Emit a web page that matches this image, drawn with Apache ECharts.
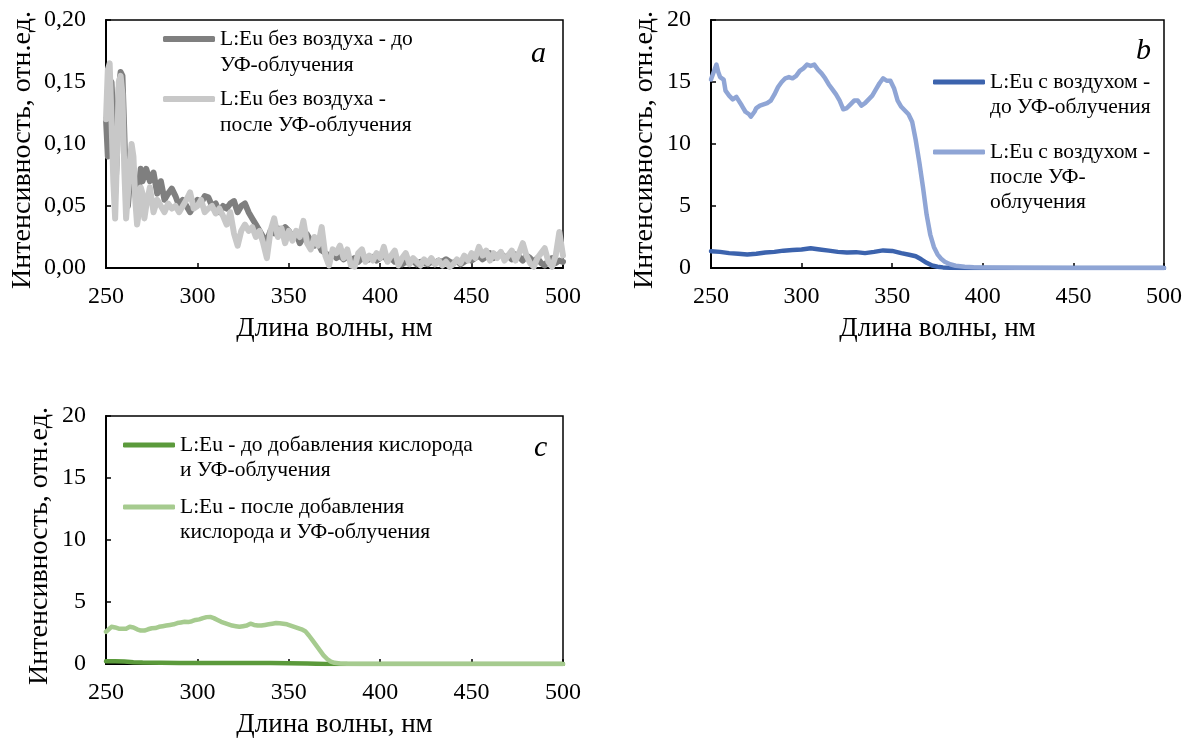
<!DOCTYPE html>
<html><head><meta charset="utf-8">
<script src="https://cdn.jsdelivr.net/npm/echarts@6/dist/echarts.min.js"></script>
<style>html,body{margin:0;padding:0;background:#fff}#c{width:1185px;height:740px}</style>
</head><body><div id="c"></div>
<script>
// ---- Panel a (без воздуха) ----
const wlA = [250,251,252,253,254,255,256,257,258,259,260,261,262,263,264,265,266,267,268,269,270,271,272,
 274,276,278,280,282,284,286,288,290,292,
 294,296,298,300,302,304,306,308,310,312,
 314,316,318,320,322,324,326,328,330,332,
 334,336,338,340,342,344,346,348,350,352,
 354,356,358,360,362,364,366,368,370,372,
 374,376,378,380,382,384,386,388,390,392,
 394,396,398,400,402,404,406,408,410,412,
 414,416,418,420,422,424,426,428,430,432,
 434,436,438,440,442,444,446,448,450,452,
 454,456,458,460,462,464,466,468,470,472,
 474,476,478,480,482,484,486,488,490,492,
 494,496,498,500];
const aBefore = [0.12,0.09,0.13,0.15,0.12,0.06,0.09,0.145,0.158,0.155,0.11,0.06,0.05,0.07,0.09,0.08,0.06,0.05,0.065,0.08,0.07,0.075,0.08,
 0.07,0.077,0.06,0.07,0.055,0.06,0.064,0.058,0.05,0.055,
 0.05,0.045,0.05,0.055,0.052,0.058,0.057,0.05,0.052,0.045,
 0.05,0.048,0.052,0.054,0.045,0.05,0.052,0.045,0.04,0.035,
 0.03,0.025,0.022,0.03,0.028,0.032,0.03,0.033,0.03,0.025,
 0.028,0.02,0.025,0.027,0.022,0.018,0.02,0.014,0.012,0.01,
 0.012,0.008,0.01,0.007,0.009,0.006,0.008,0.005,0.008,0.006,
 0.007,0.009,0.006,0.008,0.01,0.006,0.008,0.005,0.006,0.003,
 0.005,0.004,0.006,0.003,0.005,0.004,0.003,0.005,0.004,0.006,
 0.005,0.007,0.005,0.004,0.006,0.003,0.005,0.007,0.006,0.008,
 0.01,0.007,0.009,0.012,0.008,0.01,0.012,0.008,0.01,0.007,
 0.011,0.009,0.006,0.01,0.008,0.005,0.008,0.004,0.002,0.006,
 0.008,0.004,0.006,0.005];
const aAfter = [0.12,0.16,0.165,0.12,0.07,0.04,0.09,0.15,0.155,0.14,0.08,0.04,0.06,0.085,0.1,0.09,0.055,0.035,0.045,0.065,0.06,0.04,0.05,
 0.065,0.045,0.055,0.05,0.045,0.052,0.048,0.05,0.045,0.05,
 0.055,0.061,0.048,0.05,0.055,0.045,0.048,0.05,0.044,0.048,
 0.042,0.035,0.045,0.028,0.018,0.03,0.035,0.03,0.033,0.025,
 0.03,0.02,0.008,0.03,0.04,0.025,0.032,0.02,0.03,0.022,
 0.03,0.025,0.038,0.02,0.015,0.025,0.018,0.033,0.01,0.002,
 0.015,0.012,0.018,0.008,0.015,0.002,0.001,0.012,0.015,0.005,
 0.01,0.006,0.012,0.008,0.017,0.005,0.01,0.014,0.002,0.008,
 0.012,0.003,0.008,0.005,0.002,0.007,0.004,0.008,0.003,0.006,
 0.002,0.005,0.001,0.003,0.007,0.004,0.01,0.006,0.012,0.008,
 0.017,0.01,0.014,0.006,0.012,0.008,0.013,0.006,0.01,0.014,
 0.006,0.012,0.02,0.01,0.004,0.001,0.008,0.012,0.016,0.005,
 0.001,0.01,0.029,0.01];

// ---- Panel b (с воздухом) : [nm, value] ----
const bBefore = [[250,1.35],[255,1.3],[260,1.2],[265,1.15],[270,1.08],[275,1.15],[280,1.25],[285,1.3],[290,1.4],[295,1.45],[300,1.5],[305,1.6],[310,1.5],[315,1.4],[320,1.3],[325,1.25],[330,1.28],[335,1.2],[340,1.3],[345,1.42],[350,1.38],[355,1.2],[360,1.05],[363,0.95],[366,0.7],[369,0.42],[372,0.2],[375,0.1],[378,0.05],[382,0.02],[390,0.01],[500,0.0]];
const bAfter = [[250,15.2],[251,15.6],[252,16.0],[253,16.4],[254,15.8],[255,15.4],[256,15.5],[257,15.2],[258,14.3],[260,13.9],[262,13.6],[264,13.8],[265,13.7],[267,13.1],[269,12.6],[271,12.4],[272,12.2],[274,12.6],[275,12.9],[277,13.1],[279,13.2],[281,13.3],[283,13.5],[285,14.0],[287,14.6],[289,15.0],[291,15.3],[293,15.4],[295,15.3],[297,15.5],[299,15.9],[301,16.1],[303,16.4],[305,16.3],[307,16.4],[309,16.0],[311,15.7],[313,15.3],[315,14.8],[317,14.4],[319,14.0],[321,13.5],[323,12.8],[325,12.9],[327,13.2],[329,13.5],[331,13.5],[333,13.1],[335,13.3],[337,13.6],[339,13.9],[341,14.4],[343,14.9],[345,15.3],[347,15.1],[349,15.1],[351,14.5],[353,13.5],[355,13.0],[357,12.7],[359,12.4],[361,11.8],[363,10.3],[365,8.5],[367,6.5],[369,4.3],[371,2.7],[373,1.7],[375,1.1],[377,0.75],[379,0.5],[382,0.3],[385,0.18],[390,0.1],[395,0.06],[400,0.04],[420,0.02],[450,0.01],[500,0.01]];

// ---- Panel c (кислород) : [nm, value] ----
const cBefore = [[250,0.22],[255,0.22],[260,0.2],[265,0.15],[270,0.12],[280,0.1],[290,0.09],[300,0.08],[310,0.08],[320,0.09],[330,0.08],[340,0.08],[350,0.07],[360,0.05],[365,0.03],[370,0.01],[375,0],[500,0]];
const cAfter = [[250,2.6],[251,2.75],[253,3.0],[255,2.95],[257,2.85],[259,2.85],[261,2.85],[263,3.0],[265,2.95],[267,2.8],[269,2.7],[271,2.7],[273,2.8],[275,2.88],[277,2.9],[279,3.0],[281,3.05],[283,3.1],[285,3.15],[287,3.2],[289,3.3],[291,3.35],[293,3.4],[295,3.38],[297,3.45],[299,3.55],[301,3.6],[303,3.7],[305,3.78],[307,3.8],[309,3.7],[311,3.55],[313,3.4],[315,3.3],[317,3.2],[319,3.1],[321,3.05],[323,3.0],[325,3.05],[327,3.1],[329,3.25],[331,3.15],[333,3.1],[335,3.1],[337,3.15],[339,3.2],[341,3.25],[343,3.3],[345,3.28],[347,3.25],[349,3.2],[351,3.1],[353,3.0],[355,2.9],[357,2.8],[359,2.65],[361,2.3],[363,1.9],[365,1.5],[367,1.1],[369,0.7],[371,0.4],[373,0.2],[375,0.1],[378,0.04],[382,0.02],[390,0.01],[500,0.0]];

const names = {
  a1: 'L:Eu без воздуха - до\nУФ-облучения',
  a2: 'L:Eu без воздуха -\nпосле УФ-облучения',
  b1: 'L:Eu с воздухом -\nдо УФ-облучения',
  b2: 'L:Eu с воздухом -\nпосле УФ-\nоблучения',
  c1: 'L:Eu - до добавления кислорода\nи УФ-облучения',
  c2: 'L:Eu - после добавления\nкислорода и УФ-облучения'
};
const xTitle = 'Длина волны, нм';
const yTitle = 'Интенсивность, отн.ед.';
const letters = ['a','b','c'];

const FONT = 'Liberation Serif';
const colors = {a1:'#7f7f7f', a2:'#c8c8c8', b1:'#3c63ad', b2:'#8fa5d5', c1:'#5b9a3b', c2:'#a6cb8f'};

const grids = [
  {left:106, top:20, width:457, height:248},
  {left:711, top:20, width:455, height:248},
  {left:106, top:416, width:457, height:248}
];
function xAx(i){
  return {gridIndex:i, type:'value', min:250, max:500, interval:50,
    name:xTitle, nameLocation:'middle', nameGap:47,
    nameTextStyle:{fontFamily:FONT, fontSize:27, color:'#000'},
    axisLine:{show:true, lineStyle:{color:'#000', width:2}},
    axisTick:{show:true, inside:true, length:5, lineStyle:{color:'#000', width:1.5}},
    axisLabel:{fontFamily:FONT, fontSize:24, color:'#000', margin:17},
    splitLine:{show:false}};
}
function yAx(i, max, interval, fmt){
  return {gridIndex:i, type:'value', min:0, max:max, interval:interval,
    name:yTitle, nameLocation:'middle', nameGap: fmt ? 69 : 52,
    nameTextStyle:{fontFamily:FONT, fontSize:28, color:'#000', padding:[0,12,0,0]},
    axisLine:{show:true, lineStyle:{color:'#000', width:2}},
    axisTick:{show:true, inside:true, length:5, lineStyle:{color:'#000', width:1.5}},
    axisLabel:{fontFamily:FONT, fontSize:24, color:'#000', margin:20,
      formatter: fmt ? (v => v.toFixed(2).replace('.', ',')) : (v => String(v))},
    splitLine:{show:false}};
}
function ser(name, i, data, color, w){
  return {name:name, type:'line', xAxisIndex:i, yAxisIndex:i, data:data, showSymbol:false, symbol:'none',
    lineStyle:{color:color, width:w, cap:'round', join:'round'}, itemStyle:{color:color}, animation:false, z:2};
}
// legend entry: first text line aligned with the line sample (leading blank lines centre the block)
function leg(name, left, cy, L, h){
  const n = name.split('\n').length;
  const blanks = n - 1;
  const total = n + blanks;
  return {data:[name], orient:'vertical', left:left, top: cy - total*L/2, padding:0,
    icon:'roundRect', itemWidth:52, itemHeight:h,
    formatter: s => '\n'.repeat(blanks) + s,
    textStyle:{fontFamily:FONT, fontSize:21.5, color:'#000', lineHeight:L},
    selectedMode:false};
}
const pairsA1 = wlA.map((x,k)=>[x, aBefore[k]]);
const pairsA2 = wlA.map((x,k)=>[x, aAfter[k]]);
const letterStyle = {fontFamily:FONT, fontStyle:'italic', fontWeight:'normal', fontSize:30, color:'#000'};

const option = {
  backgroundColor:'#fff',
  animation:false,
  grid: grids.map(g => Object.assign({show:true, borderColor:'#000', borderWidth:1.5, containLabel:false}, g)),
  xAxis:[xAx(0), xAx(1), xAx(2)],
  yAxis:[yAx(0,0.2,0.05,true), yAx(1,20,5,false), yAx(2,20,5,false)],
  legend:[
    leg(names.a1, 163, 39, 26, 6), leg(names.a2, 163, 99, 26, 6),
    leg(names.b1, 933, 82, 25, 5), leg(names.b2, 933, 152, 25, 5),
    leg(names.c1, 123, 445, 25.5, 5), leg(names.c2, 123, 507, 25.5, 5)
  ],
  title:[
    {text:letters[0], left:531, top:39, textStyle:letterStyle, padding:0},
    {text:letters[1], left:1136, top:36, textStyle:letterStyle, padding:0},
    {text:letters[2], left:534, top:433, textStyle:letterStyle, padding:0}
  ],
  series:[
    ser(names.a1, 0, pairsA1, colors.a1, 6),
    ser(names.a2, 0, pairsA2, colors.a2, 6),
    ser(names.b1, 1, bBefore, colors.b1, 4.5),
    ser(names.b2, 1, bAfter, colors.b2, 4.5),
    ser(names.c1, 2, cBefore, colors.c1, 4.5),
    ser(names.c2, 2, cAfter, colors.c2, 4.5)
  ]
};
const chart = echarts.init(document.getElementById('c'), null, {renderer:'canvas'});
chart.setOption(option);
</script></body></html>
